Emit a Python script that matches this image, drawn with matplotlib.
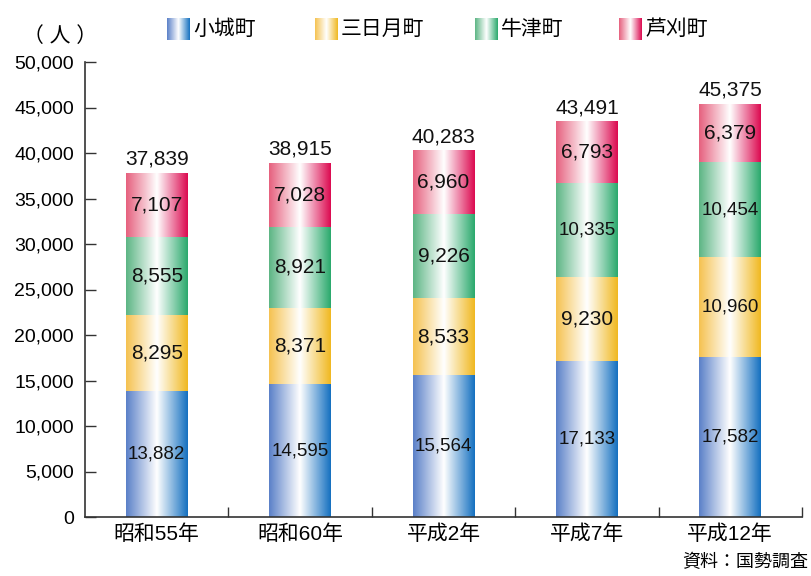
import numpy as np
import matplotlib
matplotlib.use('Agg')
import matplotlib.pyplot as plt
from matplotlib.colors import LinearSegmentedColormap

plt.rcParams['font.family'] = ['Liberation Sans', 'Noto Sans CJK JP', 'DejaVu Sans']

years = ['昭和55年', '昭和60年', '平成2年', '平成7年', '平成12年']
towns = ['小城町', '三日月町', '牛津町', '芦刈町']
ogi = [13882, 14595, 15564, 17133, 17582]
mikazuki = [8295, 8371, 8533, 9230, 10960]
ushizu = [8555, 8921, 9226, 10335, 10454]
ashikari = [7107, 7028, 6960, 6793, 6379]
totals = [37839, 38915, 40283, 43491, 45375]

# left edge -> white -> right edge
grads = [
    ('#5a80c8', '#1470c0'),
    ('#f5c250', '#f0b820'),
    ('#5cb584', '#2aa96c'),
    ('#e6607e', '#dc0a50'),
]
cmaps = [LinearSegmentedColormap.from_list('g%d' % i, [(0, a), (0.5, 'white'), (1, b)])
         for i, (a, b) in enumerate(grads)]
grad = np.linspace(0, 1, 256).reshape(1, -1)

fig = plt.figure(figsize=(8.11, 5.76), dpi=100)
ax = fig.add_axes([85 / 811, 59 / 576, 717 / 811, 455 / 576])

x = np.arange(len(years))
series = [ogi, mikazuki, ushizu, ashikari]
bottom = np.zeros(len(years))
for s, vals in enumerate(series):
    bars = ax.bar(x, vals, 0.43, bottom=bottom, facecolor='none', edgecolor='none', zorder=2)
    for i, p in enumerate(bars):
        x0, y0, w, h = p.get_x(), p.get_y(), p.get_width(), p.get_height()
        im = ax.imshow(grad, cmap=cmaps[s], extent=(x0, x0 + w, y0, y0 + h),
                       aspect='auto', zorder=2, interpolation='bilinear')
        im.set_clip_path(p)
        v = vals[i]
        fs = 13.5 if v >= 10000 else 15
        ax.text(x0 + w / 2, y0 + h / 2, f'{v:,}', ha='center', va='center',
                fontsize=fs, color='#111111', zorder=3)
    bottom += np.array(vals)

for i, t in enumerate(totals):
    ax.annotate(f'{t:,}', (x[i], t), xytext=(0, 3), textcoords='offset points',
                ha='center', va='bottom', fontsize=15, color='#111111')

ax.set_xlim(-0.5, 4.5)
ax.set_ylim(0, 50000)
ax.set_yticks(np.arange(0, 50001, 5000))
ax.set_yticklabels([f'{v:,}' for v in range(0, 50001, 5000)])
ax.set_xticks(x)
ax.set_xticklabels(years)
ax.set_xticks(np.arange(0.5, 5, 1), minor=True)
ax.tick_params(axis='y', direction='in', length=8, width=1, labelsize=14, pad=8, color='#333333')
ax.tick_params(axis='x', which='major', length=0, labelsize=15, pad=5)
ax.tick_params(axis='x', which='minor', direction='in', length=7, width=1, color='#333333')
for side in ['top', 'right']:
    ax.spines[side].set_visible(False)
for side in ['left', 'bottom']:
    ax.spines[side].set_color('#333333')
    ax.spines[side].set_linewidth(1.2)

# legend
leg_x = [167, 315, 475, 619]
for s, name in enumerate(towns):
    lax = fig.add_axes([leg_x[s] / 811, 1 - 40 / 576, 23 / 811, 22 / 576])
    lax.imshow(grad, cmap=cmaps[s], aspect='auto', interpolation='bilinear')
    lax.axis('off')
    fig.text((leg_x[s] + 26) / 811, 1 - 29 / 576, name, ha='left', va='center', fontsize=15)

fig.text(60 / 811, 1 - 36 / 576, '（ 人 ）', ha='center', va='center', fontsize=15)
fig.text(808 / 811, 1 - 563 / 576, '資料：国勢調査', ha='right', va='center', fontsize=13)

fig.savefig('out.png', dpi=100)
